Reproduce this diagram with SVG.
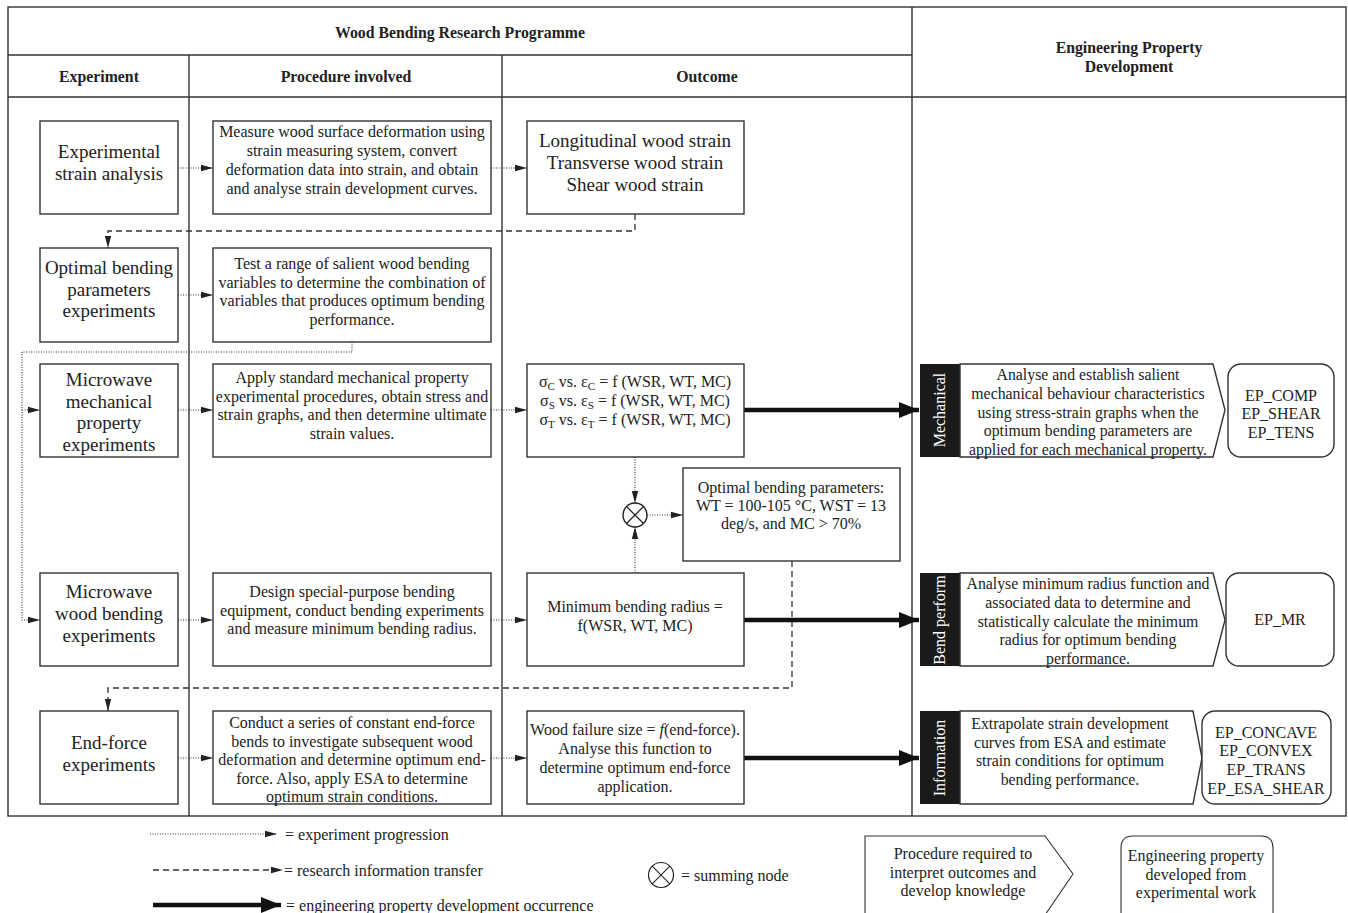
<svg xmlns="http://www.w3.org/2000/svg" width="1348" height="913" viewBox="0 0 1348 913">
<style>
text{font-family:"Liberation Serif","Times New Roman",serif;fill:#222;text-anchor:middle}
.h{font-weight:bold;font-size:15.8px}
.l{font-size:19px}
.p{font-size:16px}
.r{font-size:15.8px}
.w{fill:#fff;font-size:16px}
.box{fill:#fff;stroke:#333;stroke-width:1.4}
.frame{fill:none;stroke:#333;stroke-width:1.4}
.dot{fill:none;stroke:#333;stroke-width:1.1;stroke-dasharray:1 1.5}
.dash{fill:none;stroke:#333;stroke-width:1.3;stroke-dasharray:6 4}
.thick{fill:none;stroke:#111;stroke-width:4.5}
.bar{fill:#1a1a1a}
</style>
<defs>
<marker id="a" markerUnits="userSpaceOnUse" markerWidth="12" markerHeight="8" refX="12" refY="4" orient="auto"><path d="M0,0.8 L12,4 L0,7.2 Z" fill="#222"/></marker>
<marker id="t" markerUnits="userSpaceOnUse" markerWidth="22" markerHeight="16" refX="20" refY="8" orient="auto"><path d="M0,0 L20,8 L0,16 Z" fill="#111"/></marker>
</defs>
<rect width="1348" height="913" fill="#fff"/>
<g id="frame">
<rect class="frame" x="8" y="7" width="1338" height="809"/>
<line class="frame" x1="912" y1="7" x2="912" y2="816"/>
<line class="frame" x1="8" y1="55" x2="912" y2="55"/>
<line class="frame" x1="8" y1="97" x2="1346" y2="97"/>
<line class="frame" x1="189" y1="55" x2="189" y2="816"/>
<line class="frame" x1="502" y1="55" x2="502" y2="816"/>
<text class="h" x="460" y="38">Wood Bending Research Programme</text>
<text class="h" x="99" y="82">Experiment</text>
<text class="h" x="346" y="82">Procedure involved</text>
<text class="h" x="707" y="82">Outcome</text>
<text class="h" x="1129" y="53">Engineering Property</text>
<text class="h" x="1129" y="72">Development</text>
</g>
<g id="connectors">
<path class="dot" d="M178,168 H213" marker-end="url(#a)"/>
<path class="dot" d="M491,168 H527" marker-end="url(#a)"/>
<path class="dot" d="M178,295 H213" marker-end="url(#a)"/>
<path class="dot" d="M178,410 H213" marker-end="url(#a)"/>
<path class="dot" d="M491,410 H527" marker-end="url(#a)"/>
<path class="dot" d="M178,620 H213" marker-end="url(#a)"/>
<path class="dot" d="M491,620 H527" marker-end="url(#a)"/>
<path class="dot" d="M178,758 H213" marker-end="url(#a)"/>
<path class="dot" d="M491,758 H527" marker-end="url(#a)"/>
<path class="dot" d="M352,342 V352 H22 V620 H40" marker-end="url(#a)"/>
<path class="dot" d="M22,410 H40" marker-end="url(#a)"/>
<path class="dot" d="M635,457 V503" marker-end="url(#a)"/>
<path class="dot" d="M635,573 V527" marker-end="url(#a)"/>
<path class="dot" d="M647,515 H683" marker-end="url(#a)"/>
<path class="dash" d="M635,214 V231 H108 V248" marker-end="url(#a)"/>
<path class="dash" d="M792,561 V688 H108 V711" marker-end="url(#a)"/>
<path class="thick" d="M744,410 H919" marker-end="url(#t)"/>
<path class="thick" d="M744,620 H919" marker-end="url(#t)"/>
<path class="thick" d="M744,758 H919" marker-end="url(#t)"/>
</g>
<g id="exp1"><rect class="box" x="40" y="121" width="138" height="93"/>
<text class="l" x="109" y="158">Experimental</text><text class="l" x="109" y="180">strain analysis</text></g>
<g id="exp2"><rect class="box" x="40" y="248" width="138" height="94"/>
<text class="l" x="109" y="274">Optimal bending</text><text class="l" x="109" y="296">parameters</text><text class="l" x="109" y="317">experiments</text></g>
<g id="exp3"><rect class="box" x="40" y="364" width="138" height="93"/>
<text class="l" x="109" y="386">Microwave</text><text class="l" x="109" y="408">mechanical</text><text class="l" x="109" y="429">property</text><text class="l" x="109" y="451">experiments</text></g>
<g id="exp4"><rect class="box" x="40" y="573" width="138" height="93"/>
<text class="l" x="109" y="598">Microwave</text><text class="l" x="109" y="620">wood bending</text><text class="l" x="109" y="642">experiments</text></g>
<g id="exp5"><rect class="box" x="40" y="711" width="138" height="93"/>
<text class="l" x="109" y="749">End-force</text><text class="l" x="109" y="771">experiments</text></g>

<g id="proc1"><rect class="box" x="213" y="121" width="278" height="93"/>
<text class="p" x="352" y="137">Measure wood surface deformation using</text><text class="p" x="352" y="156">strain measuring system, convert</text><text class="p" x="352" y="175">deformation data into strain, and obtain</text><text class="p" x="352" y="194">and analyse strain development curves.</text></g>
<g id="proc2"><rect class="box" x="213" y="248" width="278" height="94"/>
<text class="p" x="352" y="269">Test a range of salient wood bending</text><text class="p" x="352" y="288">variables to determine the combination of</text><text class="p" x="352" y="306">variables that produces optimum bending</text><text class="p" x="352" y="325">performance.</text></g>
<g id="proc3"><rect class="box" x="213" y="364" width="278" height="93"/>
<text class="p" x="352" y="383">Apply standard mechanical property</text><text class="p" x="352" y="402">experimental procedures, obtain stress and</text><text class="p" x="352" y="420">strain graphs, and then determine ultimate</text><text class="p" x="352" y="439">strain values.</text></g>
<g id="proc4"><rect class="box" x="213" y="573" width="278" height="93"/>
<text class="p" x="352" y="597">Design special-purpose bending</text><text class="p" x="352" y="616">equipment, conduct bending experiments</text><text class="p" x="352" y="634">and measure minimum bending radius.</text></g>
<g id="proc5"><rect class="box" x="213" y="711" width="278" height="93"/>
<text class="p" x="352" y="728">Conduct a series of constant end-force</text><text class="p" x="352" y="747">bends to investigate subsequent wood</text><text class="p" x="352" y="765">deformation and determine optimum end-</text><text class="p" x="352" y="784">force.  Also, apply ESA to determine</text><text class="p" x="352" y="802">optimum strain conditions.</text></g>

<g id="out1"><rect class="box" x="527" y="121" width="217" height="93"/>
<text class="l" x="635" y="147">Longitudinal wood strain</text><text class="l" x="635" y="169">Transverse wood strain</text><text class="l" x="635" y="191">Shear wood strain</text></g>
<g id="out3"><rect class="box" x="527" y="364" width="217" height="93"/>
<text class="p" x="635" y="387">σ<tspan font-size="11" dy="3">C</tspan><tspan dy="-3"> vs. ε</tspan><tspan font-size="11" dy="3">C</tspan><tspan dy="-3"> = f (WSR, WT, MC)</tspan></text>
<text class="p" x="635" y="406">σ<tspan font-size="11" dy="3">S</tspan><tspan dy="-3"> vs. ε</tspan><tspan font-size="11" dy="3">S</tspan><tspan dy="-3"> = f (WSR, WT, MC)</tspan></text>
<text class="p" x="635" y="425">σ<tspan font-size="11" dy="3">T</tspan><tspan dy="-3"> vs. ε</tspan><tspan font-size="11" dy="3">T</tspan><tspan dy="-3"> = f (WSR, WT, MC)</tspan></text></g>
<g id="sum"><circle cx="635" cy="515" r="12" fill="#fff" stroke="#222" stroke-width="1.4"/>
<path d="M626.5,506.5 L643.5,523.5 M643.5,506.5 L626.5,523.5" stroke="#222" stroke-width="1.3"/></g>
<g id="optparams"><rect class="box" x="683" y="468" width="217" height="93"/>
<text class="p" x="791" y="493">Optimal bending parameters:</text><text class="p" x="791" y="511">WT = 100-105 °C, WST = 13</text><text class="p" x="791" y="529">deg/s, and MC &gt; 70%</text></g>
<g id="out4"><rect class="box" x="527" y="573" width="217" height="93"/>
<text class="p" x="635" y="612">Minimum bending radius =</text><text class="p" x="635" y="631">f(WSR, WT, MC)</text></g>
<g id="out5"><rect class="box" x="527" y="711" width="217" height="93"/>
<text class="p" x="635" y="735">Wood failure size = <tspan font-style="italic">f</tspan>(end-force).</text><text class="p" x="635" y="754">Analyse this function to</text><text class="p" x="635" y="773">determine optimum end-force</text><text class="p" x="635" y="792">application.</text></g>

<g id="ep1">
<rect class="bar" x="920" y="364" width="40" height="93"/>
<text class="w" transform="translate(945,410) rotate(-90)">Mechanical</text>
<path class="box" d="M960,364 H1213 L1225,410 L1213,457 H960 Z"/>
<text class="r" x="1088" y="380">Analyse and establish salient</text><text class="r" x="1088" y="399">mechanical behaviour characteristics</text><text class="r" x="1088" y="418">using stress-strain graphs when the</text><text class="r" x="1088" y="436">optimum bending parameters are</text><text class="r" x="1088" y="455">applied for each mechanical property.</text>
<rect class="box" x="1228" y="364" width="106" height="93" rx="13"/>
<text class="p" x="1281" y="401">EP_COMP</text><text class="p" x="1281" y="419">EP_SHEAR</text><text class="p" x="1281" y="438">EP_TENS</text>
</g>
<g id="ep2">
<rect class="bar" x="920" y="573" width="40" height="93"/>
<text class="w" transform="translate(945,620) rotate(-90)">Bend perform</text>
<path class="box" d="M960,573 H1213 L1225,620 L1213,666 H960 Z"/>
<text class="r" x="1088" y="589">Analyse minimum radius function and</text><text class="r" x="1088" y="608">associated data to determine and</text><text class="r" x="1088" y="627">statistically calculate the minimum</text><text class="r" x="1088" y="645">radius for optimum bending</text><text class="r" x="1088" y="664">performance.</text>
<rect class="box" x="1226" y="573" width="108" height="93" rx="13"/>
<text class="p" x="1280" y="625">EP_MR</text>
</g>
<g id="ep3">
<rect class="bar" x="920" y="711" width="40" height="93"/>
<text class="w" transform="translate(945,758) rotate(-90)">Information</text>
<path class="box" d="M960,711 H1193 L1202,758 L1193,804 H960 Z"/>
<text class="r" x="1070" y="729">Extrapolate strain development</text><text class="r" x="1070" y="748">curves from ESA and estimate</text><text class="r" x="1070" y="766">strain conditions for optimum</text><text class="r" x="1070" y="785">bending performance.</text>
<rect class="box" x="1202" y="711" width="129" height="93" rx="13"/>
<text class="p" x="1266" y="738">EP_CONCAVE</text><text class="p" x="1266" y="756">EP_CONVEX</text><text class="p" x="1266" y="775">EP_TRANS</text><text class="p" x="1266" y="794">EP_ESA_SHEAR</text>
</g>

<g id="legend">
<path class="dot" d="M150,834 H277" marker-end="url(#a)"/>
<text class="p" x="285" y="840" style="text-anchor:start">= experiment progression</text>
<path class="dash" d="M153,870 H283" marker-end="url(#a)"/>
<text class="p" x="284" y="876" style="text-anchor:start">= research information transfer</text>
<path class="thick" d="M153,905 H281" marker-end="url(#t)"/>
<text class="p" x="286" y="911" style="text-anchor:start">= engineering property development occurrence</text>
<circle cx="661" cy="875" r="12.5" fill="#fff" stroke="#222" stroke-width="1.2"/>
<path d="M652.2,866.2 L669.8,883.8 M669.8,866.2 L652.2,883.8" stroke="#222" stroke-width="1.1"/>
<text class="p" x="681" y="881" style="text-anchor:start">= summing node</text>
<path d="M865,915 V836 H1045 L1073,874 L1045,915" fill="#fff" stroke="#333" stroke-width="1.1"/>
<text class="p" x="963" y="859">Procedure required to</text><text class="p" x="963" y="878">interpret outcomes and</text><text class="p" x="963" y="896">develop knowledge</text>
<path d="M1121,920 V848 Q1121,836 1133,836 H1261 Q1273,836 1273,848 V920" fill="#fff" stroke="#333" stroke-width="1.1"/>
<text class="p" x="1196" y="861">Engineering property</text><text class="p" x="1196" y="880">developed from</text><text class="p" x="1196" y="898">experimental work</text>
</g>
</svg>
